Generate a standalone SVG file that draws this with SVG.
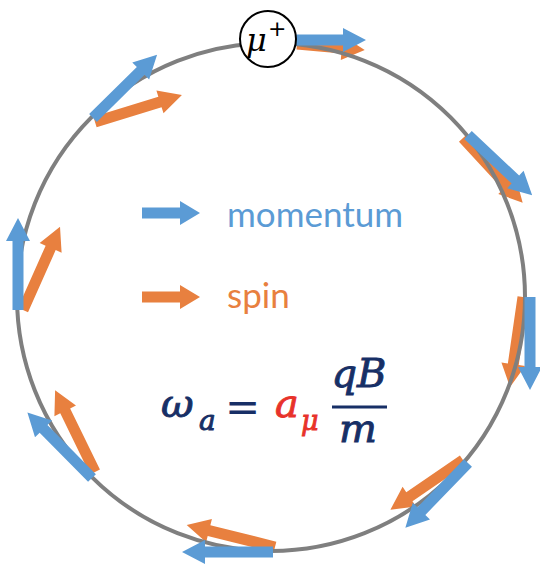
<svg xmlns="http://www.w3.org/2000/svg" width="540" height="567" viewBox="0 0 540 567">
<style>
.b{fill:#5b9bd5}
.o{fill:#e8803f}
.ring{fill:none;stroke:#7f7f7f;stroke-width:4}
.leg{font-family:Lato,"Open Sans",sans-serif;font-size:35px}
.m{font-family:"DejaVu Serif",serif;font-style:italic;fill:#172f66;stroke:#172f66;stroke-width:0.9}
.r{fill:#e8322a;stroke:#e8322a}
</style>
<g id="arrows-spin">
<polygon class="o" transform="translate(297,44) rotate(5)" points="0,-5.5 45,-5.5 45,-12 68,0 45,12 45,5.5 0,5.5"/>
<polygon class="o" transform="translate(95,122) rotate(-17.2)" points="0,-5.5 68,-5.5 68,-12 91,0 68,12 68,5.5 0,5.5"/>
<polygon class="o" transform="translate(463,138) rotate(47.3)" points="0,-5.5 65,-5.5 65,-12 88,0 65,12 65,5.5 0,5.5"/>
<polygon class="o" transform="translate(523,297) rotate(98.2)" points="0,-5.5 68,-5.5 68,-12 91,0 68,12 68,5.5 0,5.5"/>
<polygon class="o" transform="translate(23,310) rotate(-66)" points="0,-5.5 68,-5.5 68,-12 91,0 68,12 68,5.5 0,5.5"/>
<polygon class="o" transform="translate(95,472) rotate(-116)" points="0,-5.5 68,-5.5 68,-12 91,0 68,12 68,5.5 0,5.5"/>
<polygon class="o" transform="translate(463,460) rotate(145.6)" points="0,-5.5 65,-5.5 65,-12 88,0 65,12 65,5.5 0,5.5"/>
<polygon class="o" transform="translate(275,547) rotate(-166)" points="0,-5.5 68,-5.5 68,-12 91,0 68,12 68,5.5 0,5.5"/>
</g>
<circle id="orbit" class="ring" cx="271" cy="297" r="254"/>
<g id="arrows-momentum">
<polygon class="b" transform="translate(296,40)" points="0,-5.5 47,-5.5 47,-12 70,0 47,12 47,5.5 0,5.5"/>
<polygon class="b" transform="translate(93,118) rotate(-44.6)" points="0,-5.5 67,-5.5 67,-12 90,0 67,12 67,5.5 0,5.5"/>
<polygon class="b" transform="translate(468,135) rotate(43.2)" points="0,-5.5 65,-5.5 65,-12 88,0 65,12 65,5.5 0,5.5"/>
<polygon class="b" transform="translate(530,297) rotate(90)" points="0,-5.5 70,-5.5 70,-12 93,0 70,12 70,5.5 0,5.5"/>
<polygon class="b" transform="translate(18,310) rotate(-90)" points="0,-5.5 69,-5.5 69,-12 92,0 69,12 69,5.5 0,5.5"/>
<polygon class="b" transform="translate(92,478) rotate(-134.6)" points="0,-5.5 69,-5.5 69,-12 92,0 69,12 69,5.5 0,5.5"/>
<polygon class="b" transform="translate(468,463) rotate(134.1)" points="0,-5.5 67,-5.5 67,-12 90,0 67,12 67,5.5 0,5.5"/>
<polygon class="b" transform="translate(273,552) rotate(180)" points="0,-5.5 68,-5.5 68,-12 91,0 68,12 68,5.5 0,5.5"/>
</g>
<g id="muon">
<circle cx="268" cy="39" r="28" fill="#fff" stroke="#000" stroke-width="2"/>
<text x="246" y="51" font-family="DejaVu Serif,serif" font-style="italic" font-size="32">μ</text>
<text x="268" y="36" font-family="DejaVu Sans,sans-serif" font-size="22">+</text>
</g>
<g id="legend-momentum">
<polygon class="b" transform="translate(142,213)" points="0,-5.5 38,-5.5 38,-12 58,0 38,12 38,5.5 0,5.5"/>
<text class="leg" x="227" y="227" fill="#5b9bd5">momentum</text>
</g>
<g id="legend-spin">
<polygon class="o" transform="translate(142,297)" points="0,-5.5 38,-5.5 38,-12 58,0 38,12 38,5.5 0,5.5"/>
<text class="leg" x="227" y="308" fill="#e8803f">spin</text>
</g>
<g id="formula">
<text class="m" x="161" y="417" font-size="40">ω</text>
<text class="m" x="199" y="430" font-size="28">a</text>
<text x="225" y="421" font-family="DejaVu Sans,sans-serif" font-size="42" fill="#172f66">=</text>
<text class="m r" x="275" y="417" font-size="40">a</text>
<text class="m r" x="301" y="430" font-size="27">μ</text>
<rect x="332" y="405.5" width="55" height="3" fill="#172f66"/>
<text class="m" x="359" y="387" font-size="40" text-anchor="middle">qB</text>
<text class="m" x="358" y="442" font-size="40" text-anchor="middle">m</text>
</g>
</svg>
